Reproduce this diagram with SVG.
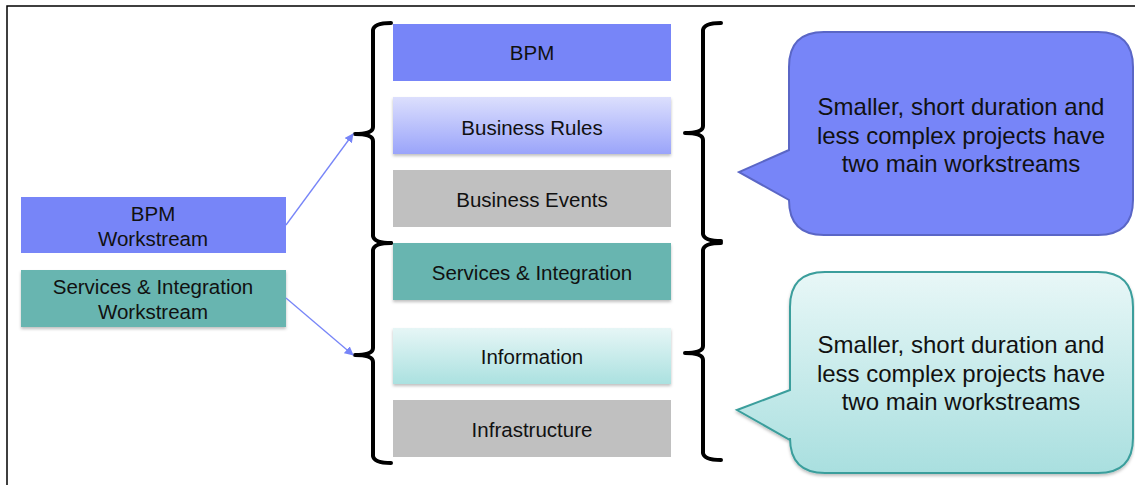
<svg xmlns="http://www.w3.org/2000/svg" width="1135" height="485" viewBox="0 0 1135 485">
<defs>
<linearGradient id="gRules" x1="0" y1="0" x2="0" y2="1"><stop offset="0" stop-color="#DCDFFD"/><stop offset="1" stop-color="#9AA4FA"/></linearGradient>
<linearGradient id="gInfo" x1="0" y1="0" x2="0" y2="1"><stop offset="0" stop-color="#E6F6F6"/><stop offset="1" stop-color="#ABE1E0"/></linearGradient>
<linearGradient id="gCall2" x1="0" y1="0" x2="0" y2="1"><stop offset="0" stop-color="#E8F7F7"/><stop offset="1" stop-color="#A9DFDF"/></linearGradient>
<filter id="sh" x="-5%" y="-10%" width="110%" height="130%"><feDropShadow dx="0" dy="2" stdDeviation="1.5" flood-color="#000" flood-opacity="0.25"/></filter>
<marker id="arr" viewBox="0 0 10 10" refX="9" refY="5" markerWidth="9" markerHeight="9" orient="auto" markerUnits="userSpaceOnUse"><path d="M0,0 L10,5 L0,10 z" fill="#7785F8"/></marker>
</defs>
<style>
text{font-family:"Liberation Sans",Arial,sans-serif;fill:#111;text-anchor:middle}
.lbl{font-size:20.5px}
.call{font-size:24px}
.brace{fill:none;stroke:#000;stroke-width:4;stroke-linejoin:round;stroke-linecap:round}
.conn{stroke:#7785F8;stroke-width:1.3;fill:none}
</style>
<path d="M7,485 L7,6 L1135,6" fill="none" stroke="#000" stroke-width="1.5"/>

<g id="bpm-workstream"><rect x="21" y="197" width="265" height="56" fill="#7785F8"/><text class="lbl" x="153" y="221">BPM</text><text class="lbl" x="153" y="246">Workstream</text></g>
<g id="si-workstream"><rect x="21" y="270" width="265" height="57" fill="#68B5B0" filter="url(#sh)"/><text class="lbl" x="153" y="294">Services &amp; Integration</text><text class="lbl" x="153" y="319">Workstream</text></g>

<g id="bpm"><rect x="393" y="24" width="278" height="57" fill="#7785F8"/><text class="lbl" x="532" y="60">BPM</text></g>
<g id="business-rules"><rect x="393" y="97" width="278" height="57" fill="url(#gRules)" filter="url(#sh)"/><text class="lbl" x="532" y="135">Business Rules</text></g>
<g id="business-events"><rect x="393" y="170" width="278" height="57" fill="#C0C0C0"/><text class="lbl" x="532" y="207">Business Events</text></g>
<g id="services-integration"><rect x="393" y="243" width="278" height="57" fill="#68B5B0" filter="url(#sh)"/><text class="lbl" x="532" y="280">Services &amp; Integration</text></g>
<g id="information"><rect x="393" y="328" width="278" height="56" fill="url(#gInfo)" filter="url(#sh)"/><text class="lbl" x="532" y="364">Information</text></g>
<g id="infrastructure"><rect x="393" y="400" width="278" height="57" fill="#C0C0C0"/><text class="lbl" x="532" y="437">Infrastructure</text></g>

<g id="braces">
<path class="brace" d="M391,23 Q374,23 373,30 L373,127 Q373,134 355,134 Q373,134 373,141 L373,236 Q374,243 391,243"/>
<path class="brace" d="M391,243 Q374,243 373,250 L373,348 Q373,355 355,355 Q373,355 373,362 L373,456 Q374,463 391,463"/>
<path class="brace" d="M721,23 Q704,23 703,30 L703,126 Q703,133 685,133 Q703,133 703,140 L703,234 Q704,241 721,241"/>
<path class="brace" d="M721,243 Q704,243 703,250 L703,346 Q703,353 685,353 Q703,353 703,360 L703,453 Q704,460 721,460"/>
</g>

<g id="connectors">
<line class="conn" x1="286" y1="225" x2="353" y2="134" marker-end="url(#arr)"/>
<line class="conn" x1="286" y1="298" x2="353" y2="355" marker-end="url(#arr)"/>
</g>

<g id="callout-1">
<path d="M824,32 L1098,32 Q1133,32 1133,67 L1133,200 Q1133,235 1098,235 L824,235 Q789,235 789,200 L789,200 L739,172 L789,150 L789,67 Q789,32 824,32 Z" fill="#7785F8" stroke="#5A66C6" stroke-width="2"/>
<text class="call" x="961" y="115">Smaller, short duration and</text>
<text class="call" x="961" y="144">less complex projects have</text>
<text class="call" x="961" y="172">two main workstreams</text>
</g>
<g id="callout-2">
<path d="M825,272 L1098,272 Q1133,272 1133,307 L1133,438 Q1133,473 1098,473 L825,473 Q790,473 790,438 L790,440 L737,410 L790,390 L790,307 Q790,272 825,272 Z" fill="url(#gCall2)" stroke="#3A9E9C" stroke-width="2" filter="url(#sh)"/>
<text class="call" x="961" y="353">Smaller, short duration and</text>
<text class="call" x="961" y="382">less complex projects have</text>
<text class="call" x="961" y="410">two main workstreams</text>
</g>
</svg>
